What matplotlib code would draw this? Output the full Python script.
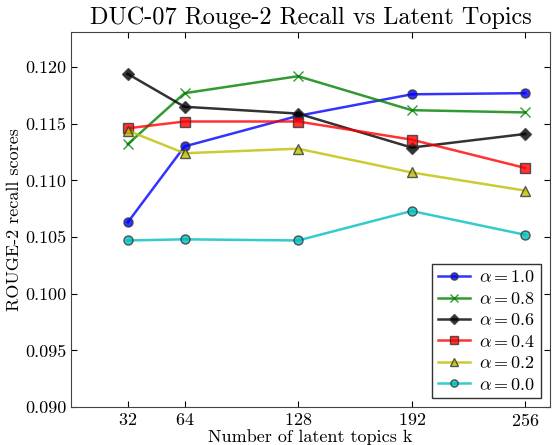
import numpy as np
import matplotlib.pyplot as plt

plt.rcParams['font.family'] = 'serif'
plt.rcParams['font.serif'] = ['cmr10']
plt.rcParams['mathtext.fontset'] = 'cm'
plt.rcParams['axes.formatter.use_mathtext'] = True

# number of latent topics
topics = [32, 64, 128, 192, 256]
# ROUGE-2 recall per alpha
r_a10 = [0.1063, 0.1130, 0.1157, 0.1176, 0.1177]
r_a08 = [0.1132, 0.1177, 0.1192, 0.1162, 0.1160]
r_a06 = [0.1194, 0.1165, 0.1159, 0.1129, 0.1141]
r_a04 = [0.1146, 0.1152, 0.1152, 0.1136, 0.1111]
r_a02 = [0.1144, 0.1124, 0.1128, 0.1107, 0.1091]
r_a00 = [0.1047, 0.1048, 0.1047, 0.1073, 0.1052]

series = [
  (r_a10, 'b', 'o', r'$\alpha = 1.0$'),
  (r_a08, 'g', 'x', r'$\alpha = 0.8$'),
  (r_a06, 'k', 'D', r'$\alpha = 0.6$'),
  (r_a04, 'r', 's', r'$\alpha = 0.4$'),
  (r_a02, 'y', '^', r'$\alpha = 0.2$'),
  (r_a00, 'c', 'o', r'$\alpha = 0.0$'),
]

fig = plt.figure(figsize=(5.52, 4.45), dpi=100)
ax = fig.add_axes([71/552, 1-407/445, (550-71)/552, (407-32)/445])

for vals, c, m, lab in series:
  mec = c if m == 'x' else '#333333'
  ax.plot(topics, vals, color=c, marker=m, label=lab, lw=1.8,
          alpha=0.8, ms=6.5, mec=mec, mew=1)

ax.set_xlim(0, 270)
ax.set_ylim(0.090, 0.1231)
ax.set_xticks(topics)
ax.set_yticks(np.arange(0.090, 0.1201, 0.005))
ax.yaxis.set_major_formatter(plt.FormatStrFormatter('%.3f'))
ax.tick_params(direction='in', top=True, right=True, labelsize=13, length=4)
for s in ax.spines.values():
  s.set_color('#444444')

ax.set_title('DUC-07 Rouge-2 Recall vs Latent Topics', fontsize=17.5)
ax.set_xlabel('Number of latent topics k', fontsize=13, labelpad=0)
ax.set_ylabel('ROUGE-2 recall scores', fontsize=13, labelpad=2)

leg = ax.legend(loc='lower right', fontsize=13, fancybox=False,
                framealpha=1, edgecolor='#333333', borderaxespad=0.5,
                handlelength=1.8, handletextpad=0.5, labelspacing=0.3,
                borderpad=0.3, markerscale=0.8)

plt.savefig('out.png')
